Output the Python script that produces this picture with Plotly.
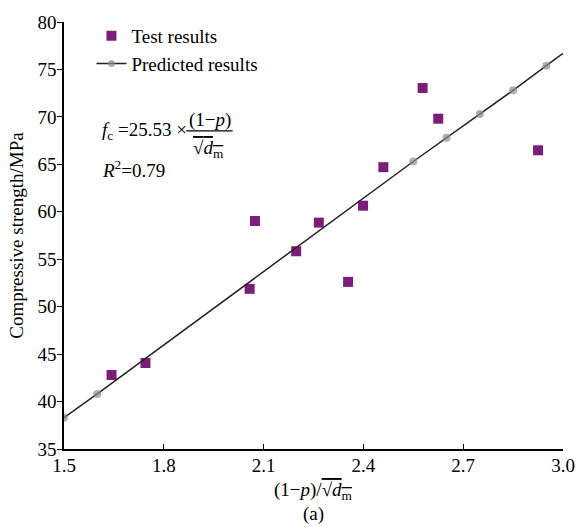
import plotly.graph_objects as go

# Test results (squares)
test_x = [1.643, 1.745, 2.058, 2.074, 2.198, 2.266, 2.354, 2.399, 2.460, 2.578, 2.625, 2.925]
test_y = [42.8, 44.06, 51.88, 59.03, 55.84, 58.86, 52.61, 60.64, 64.70, 73.04, 69.81, 66.48]

# Predicted results (line with grey circle markers); last point is the line end (no marker)
pred_x = [1.5, 1.6, 2.55, 2.65, 2.75, 2.85, 2.95, 3.0]
pred_y = [38.3, 40.8, 65.3, 67.8, 70.3, 72.8, 75.4, 76.7]
pred_marker_sizes = [8, 8, 8, 8, 8, 8, 8, 0]

x_ticks = [1.5, 1.8, 2.1, 2.4, 2.7, 3.0]
x_tick_labels = ["1.5", "1.8", "2.1", "2.4", "2.7", "3.0"]
y_ticks = [35, 40, 45, 50, 55, 60, 65, 70, 75, 80]

FONT = "Liberation Serif, Times New Roman, serif"

fig = go.Figure()
fig.add_trace(go.Scatter(
    x=test_x, y=test_y, mode="markers", name="Test results",
    marker=dict(symbol="square", size=10, color="#7b1d7a", line=dict(width=0)),
))
fig.add_trace(go.Scatter(
    x=pred_x, y=pred_y, mode="lines+markers", name="Predicted results",
    line=dict(color="#2a1f1f", width=1.5),
    marker=dict(symbol="circle", size=pred_marker_sizes, color="#8c8c8c",
                line=dict(width=0)),
))

fig.update_layout(
    width=587, height=527,
    margin=dict(l=64, r=13, t=17, b=78),
    paper_bgcolor="white", plot_bgcolor="white",
    font=dict(family=FONT, size=19, color="black"),
    showlegend=True,
    legend=dict(x=0.055, y=1.012, xanchor="left", yanchor="top",
                bgcolor="rgba(0,0,0,0)", font=dict(size=19),
                tracegroupgap=0),
    xaxis=dict(range=[1.5, 3.0], tickvals=x_ticks, ticktext=x_tick_labels,
               showline=True, linecolor="black", linewidth=1.5, mirror=False,
               ticks="inside", ticklen=5, tickwidth=1.3, tickcolor="black",
               showgrid=False, zeroline=False, tickfont=dict(size=19),
               ticklabelstandoff=-2),
    yaxis=dict(range=[35, 80], tickvals=y_ticks,
               showline=True, linecolor="black", linewidth=1.5, mirror=False,
               ticks="outside", ticklen=5, tickwidth=1.3, tickcolor="black",
               showgrid=False, zeroline=False, tickfont=dict(size=19),
               ticklabelstandoff=-3,
               title=dict(text="Compressive strength/MPa", font=dict(size=19), standoff=9)),
)

ann = []
ann.append(dict(text="(1−<i>p</i>)/<span style='text-decoration:overline'>√<i>d</i><sub>m</sub></span>",
                xref="paper", yref="paper", x=0.5, y=-0.098, xanchor="center", yanchor="middle",
                showarrow=False, font=dict(size=19)))
ann.append(dict(text="(a)", xref="paper", yref="paper", x=0.5, y=-0.153,
                xanchor="center", yanchor="middle", showarrow=False, font=dict(size=19)))
ann.append(dict(text="<i>f</i><sub>c</sub> =25.53 ×", xref="paper", yref="paper",
                x=0.073, y=0.744, xanchor="left", yanchor="middle", showarrow=False,
                font=dict(size=19)))
ann.append(dict(text="(1−<i>p</i>)", xref="paper", yref="paper",
                x=0.292, y=0.770, xanchor="center", yanchor="middle", showarrow=False,
                font=dict(size=19)))
ann.append(dict(text="<span style='text-decoration:overline'>√<i>d</i><sub>m</sub></span>",
                xref="paper", yref="paper",
                x=0.290, y=0.703, xanchor="center", yanchor="middle", showarrow=False,
                font=dict(size=19)))
ann.append(dict(text="<i>R</i><sup>2</sup>=0.79", xref="paper", yref="paper",
                x=0.073, y=0.655, xanchor="left", yanchor="middle", showarrow=False,
                font=dict(size=19)))
fig.update_layout(annotations=ann)
fig.add_shape(type="line", xref="paper", yref="paper", x0=0.245, x1=0.338, y0=0.745, y1=0.745,
              line=dict(color="black", width=1.2))

fig.write_html("out.html")
